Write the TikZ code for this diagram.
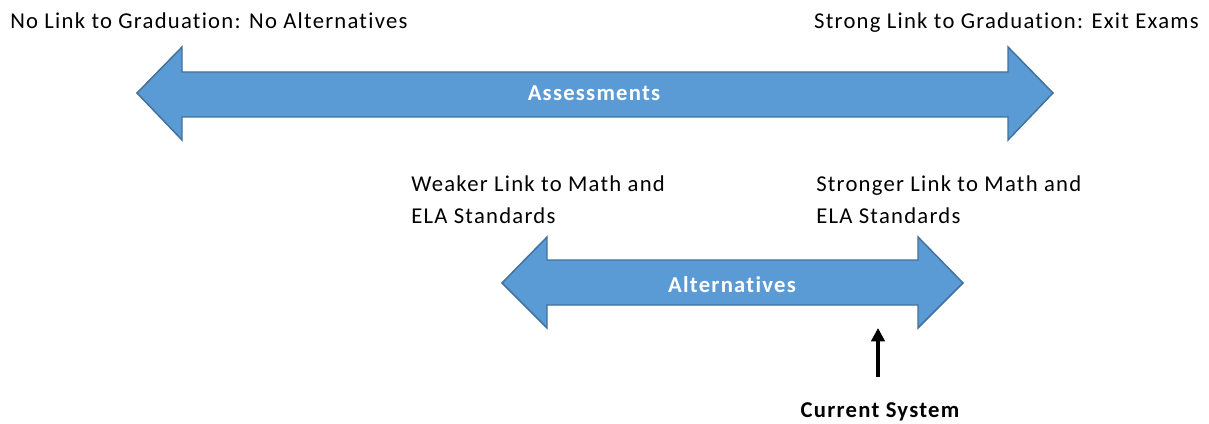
\documentclass[tikz,border=0pt]{standalone}
\usepackage{fontspec}
\setmainfont{Carlito}[Ligatures=NoCommon]
\usetikzlibrary{arrows.meta}
\definecolor{arrfill}{HTML}{5B9BD5}
\definecolor{arrdraw}{HTML}{41719C}
\newfontfamily\lblfont{Carlito}[Ligatures=NoCommon, LetterSpace=5.5]
\tikzset{
  fatarrow/.style={fill=arrfill, draw=arrdraw, line width=1.1pt, line join=miter},
  lbl/.style={font=\lblfont\fontsize{17}{24}\selectfont, inner sep=0pt},
  boldlbl/.style={font=\lblfont\fontsize{17}{24}\selectfont\bfseries, inner sep=0pt},
  inlbl/.style={boldlbl, text=white},
}
\begin{document}
\begin{tikzpicture}[x=0.75pt,y=-0.75pt]
\useasboundingbox (0,0) rectangle (1209,424);
% big double arrow
\draw[fatarrow] (137,93) -- (182,47) -- (182,72) -- (1008,72) -- (1008,47) -- (1053,93)
  -- (1008,140) -- (1008,117) -- (182,117) -- (182,140) -- cycle;
\node[inlbl, anchor=base] (assess) at (594,101) {Assessments};
% small double arrow
\draw[fatarrow] (502,283) -- (547,237) -- (547,260) -- (918,260) -- (918,237) -- (963,283)
  -- (918,328) -- (918,305) -- (547,305) -- (547,328) -- cycle;
\node[inlbl, anchor=base] (alt) at (732,292) {Alternatives};
% texts
\node[lbl, anchor=base west] (nolink) at (10,29) {No Link to Graduation: No Alternatives};
\node[lbl, anchor=base east] (strong) at (1199,29) {Strong Link to Graduation: Exit Exams};
\node[lbl, anchor=base west] (weak1) at (411,191) {Weaker Link to Math and};
\node[lbl, anchor=base west] (weak2) at (411,223) {ELA Standards};
\node[lbl, anchor=base west] (strong1) at (816,191) {Stronger Link to Math and};
\node[lbl, anchor=base west] (strong2) at (816,223) {ELA Standards};
\node[boldlbl, anchor=base] (cur) at (880,417) {Current System};
\coordinate (curtip) at (878,328);
\coordinate (curtail) at (878,377);
\draw[line width=2.6pt, -{Triangle[length=10pt,width=10pt]}] (curtail) -- (curtip);
\end{tikzpicture}
\end{document}
